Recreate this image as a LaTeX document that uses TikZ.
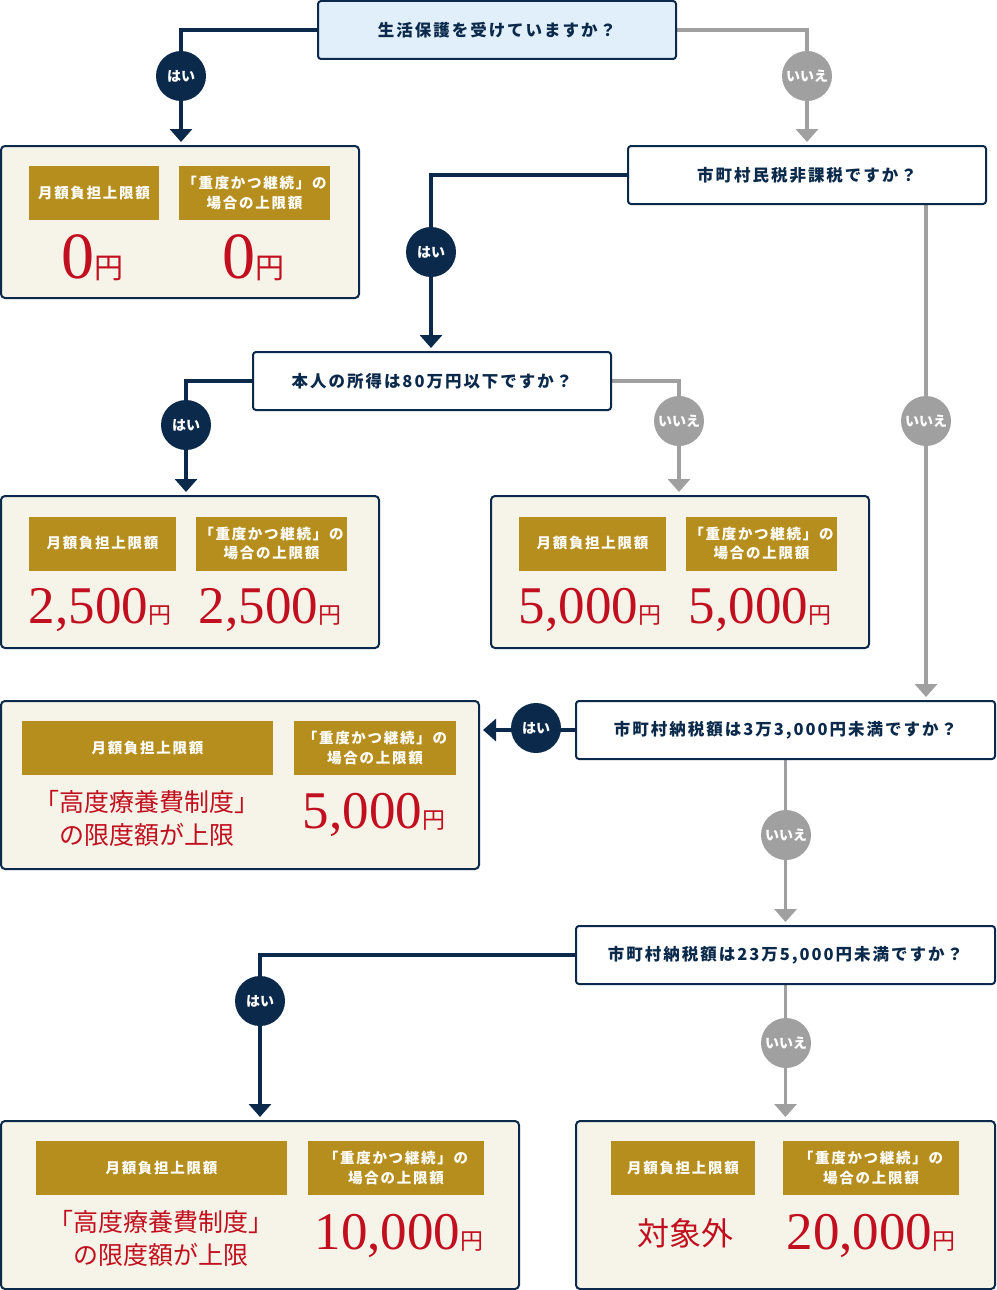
\documentclass[tikz,border=0pt]{standalone}
\usepackage{fontspec}
\usepackage{xcolor}
\usepackage{tikz}
\usetikzlibrary{arrows.meta,positioning}
\setmainfont{Liberation Serif}
\newfontfamily\jp{Noto Sans CJK JP}
\newfontfamily\jpq{Noto Sans CJK JP}[LetterSpace=12]
\definecolor{navy}{HTML}{0B2A4B}
\definecolor{gold}{HTML}{B58E1D}
\definecolor{cream}{HTML}{F6F4E8}
\definecolor{rubyred}{HTML}{C20F1F}
\definecolor{ashgrey}{HTML}{A0A0A0}
\definecolor{paleblue}{HTML}{E0EFF9}
\pgfdeclarelayer{bg}
\pgfsetlayers{bg,main}
\newcommand{\amt}[1]{{\fontsize{53}{53}\selectfont #1}{\jp\fontsize{23}{23}\selectfont 円}}
\newcommand{\amtbig}[1]{{\fontsize{66}{66}\selectfont #1}{\jp\fontsize{29}{29}\selectfont 円}}
\begin{document}
\begin{tikzpicture}[x=1pt,y=-1pt,>={Triangle[width=22pt,length=13pt]}]
  \tikzset{
    qbox/.style={draw=navy,line width=2pt,rounded corners=3pt,fill=white,minimum height=58pt,
      text=navy,font=\jpq\bfseries\fontsize{16.5}{16.5}\selectfont},
    resbox/.style={draw=navy,line width=2pt,rounded corners=4pt,fill=cream},
    tag/.style={fill=gold,text=white,align=center,inner sep=0pt,minimum height=54pt,
      font=\jpq\bfseries\fontsize{14.5}{19.5}\selectfont},
    yesdot/.style={circle,fill=navy,text=white,minimum size=50pt,inner sep=0pt,
      font=\jp\bfseries\fontsize{14}{14}\selectfont},
    nodot/.style={yesdot,fill=ashgrey},
    yesline/.style={draw=navy,line width=3.5pt,shorten >=3pt},
    noline/.style={draw=ashgrey,line width=3.5pt,shorten >=3pt},
    val/.style={text=rubyred,inner sep=0pt,align=center},
    note/.style={val,font=\jp\fontsize{25}{33}\selectfont},
  }
  \useasboundingbox (0,0) rectangle (996,1290);

  % questions
  \node[qbox,fill=paleblue,minimum width=358pt] (q1) at (497,30) {生活保護を受けていますか？};
  \node[qbox,minimum width=358pt] (q2) at (807,175) {市町村民税非課税ですか？};
  \node[qbox,minimum width=358pt] (q3) at (432,381) {本人の所得は80万円以下ですか？};
  \node[qbox,minimum width=419pt] (q4) at (785.5,730) {市町村納税額は3万3,000円未満ですか？};
  \node[qbox,minimum width=419pt] (q5) at (785.5,955) {市町村納税額は23万5,000円未満ですか？};

  % answers
  \node[resbox,minimum width=358pt,minimum height=152pt] (resA) at (180,222) {};
  \node[tag,minimum width=130pt] (tagA1) at (94,193) {月額負担上限額};
  \node[tag,minimum width=151pt] (tagA2) at (254.5,193) {「重度かつ継続」の\\場合の上限額};
  \node[val,anchor=base] (valA1) at (92,278) {\amtbig{0}};
  \node[val,anchor=base] (valA2) at (253,278) {\amtbig{0}};

  \node[resbox,minimum width=378pt,minimum height=152pt] (resB) at (190,572) {};
  \node[tag,minimum width=147pt] (tagB1) at (102.5,543.5) {月額負担上限額};
  \node[tag,minimum width=151pt] (tagB2) at (271.5,543.5) {「重度かつ継続」の\\場合の上限額};
  \node[val,anchor=base] (valB1) at (100,623) {\amt{2,500}};
  \node[val,anchor=base] (valB2) at (270,623) {\amt{2,500}};

  \node[resbox,minimum width=378pt,minimum height=152pt] (resC) at (680,572) {};
  \node[tag,minimum width=147pt] (tagC1) at (592.5,543.5) {月額負担上限額};
  \node[tag,minimum width=151pt] (tagC2) at (761.5,543.5) {「重度かつ継続」の\\場合の上限額};
  \node[val,anchor=base] (valC1) at (590,623) {\amt{5,000}};
  \node[val,anchor=base] (valC2) at (760,623) {\amt{5,000}};

  \node[resbox,minimum width=478pt,minimum height=168pt] (resD) at (240,785) {};
  \node[tag,minimum width=251pt] (tagD1) at (147.5,748) {月額負担上限額};
  \node[tag,minimum width=162pt] (tagD2) at (375,748) {「重度かつ継続」の\\場合の上限額};
  \node[note] (valD1) at (147,818) {「高度療養費制度」\\の限度額が上限};
  \node[val,anchor=base] (valD2) at (374,828) {\amt{5,000}};

  \node[resbox,minimum width=518pt,minimum height=168pt] (resE) at (260,1205) {};
  \node[tag,minimum width=251pt] (tagE1) at (161.5,1168) {月額負担上限額};
  \node[tag,minimum width=176pt] (tagE2) at (396,1168) {「重度かつ継続」の\\場合の上限額};
  \node[note] (valE1) at (161,1238) {「高度療養費制度」\\の限度額が上限};
  \node[val,anchor=base] (valE2) at (399,1249) {\amt{10,000}};

  \node[resbox,minimum width=419pt,minimum height=168pt] (resF) at (785.5,1205) {};
  \node[tag,minimum width=144pt] (tagF1) at (683,1168) {月額負担上限額};
  \node[tag,minimum width=176pt] (tagF2) at (871,1168) {「重度かつ継続」の\\場合の上限額};
  \node[val,font=\jp\fontsize{32}{32}\selectfont] (valF1) at (685,1233) {対象外};
  \node[val,anchor=base] (valF2) at (871,1249) {\amt{20,000}};

  % yes / no dots
  \node[yesdot] (y1) at (181,76) {はい};
  \node[nodot] (n1) at (807,76) {いいえ};
  \node[yesdot] (y2) at (431,252) {はい};
  \node[nodot] (n2) at (926,421) {いいえ};
  \node[yesdot] (y3) at (186,425) {はい};
  \node[nodot] (n3) at (679,421) {いいえ};
  \node[yesdot] (y4) at (536,728) {はい};
  \node[nodot] (n4) at (786,835) {いいえ};
  \node[yesdot] (y5) at (260,1001) {はい};
  \node[nodot] (n5) at (786,1043) {いいえ};

  \begin{pgfonlayer}{bg}
    \draw[yesline,->] (q1.west) -| (y1.center) -- (y1 |- resA.north);
    \draw[noline,->] (q1.east) -| (n1.center) -- (n1 |- q2.north);
    \draw[yesline,->] (q2.west) -| (y2.center) -- (y2 |- q3.north);
    \draw[noline,->] (q2.south -| n2) -- (n2 |- q4.north);
    \draw[yesline,->] (q3.west) -| (y3.center) -- (y3 |- resB.north);
    \draw[noline,->] (q3.east) -| (n3.center) -- (n3 |- resC.north);
    \draw[yesline,->] (q4.west) -- (q4.west -| resD.east);
    \draw[noline,->] (q4.south) -- (q5.north);
    \draw[yesline,->] (q5.west) -| (y5.center) -- (y5 |- resE.north);
    \draw[noline,->] (q5.south) -- (resF.north);
  \end{pgfonlayer}
\end{tikzpicture}
\end{document}
